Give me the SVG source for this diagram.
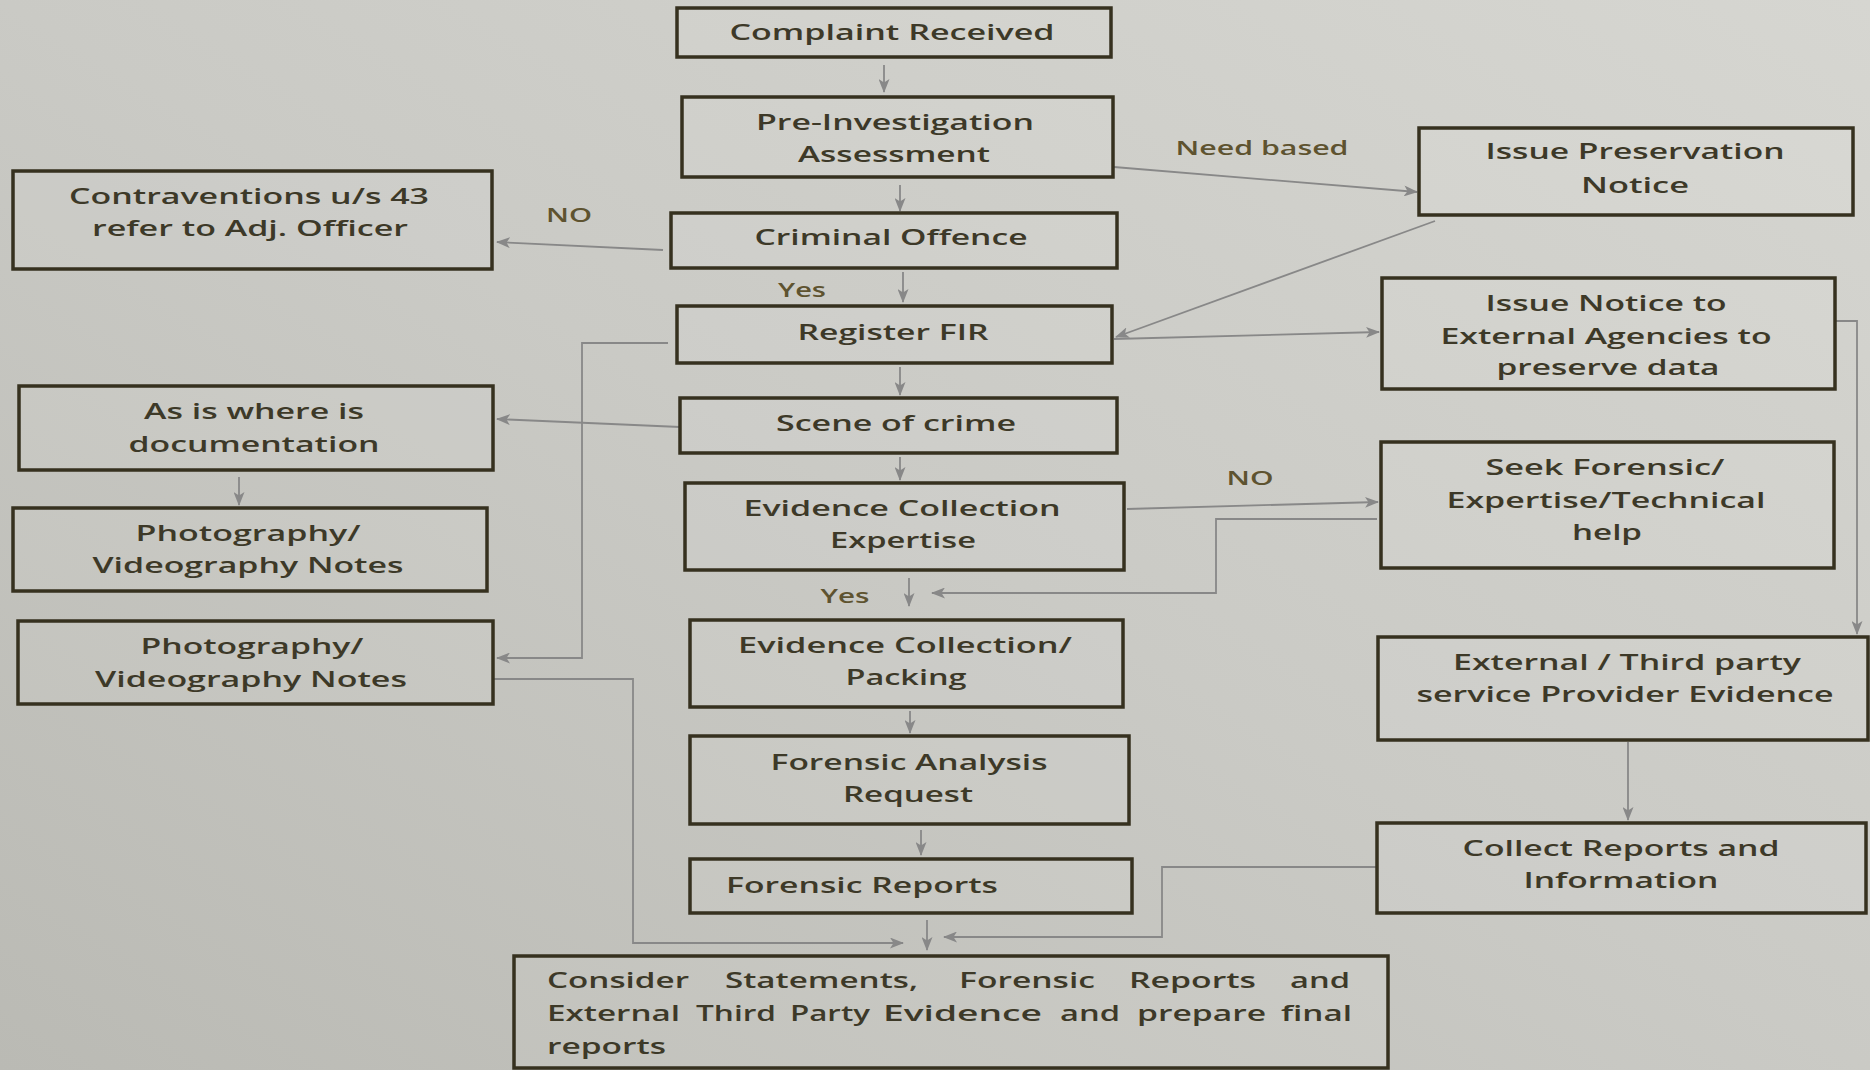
<svg xmlns="http://www.w3.org/2000/svg" width="1870" height="1070" viewBox="0 0 1870 1070">
<defs>
<linearGradient id="bg" x1="1" y1="0" x2="0" y2="1">
<stop offset="0" stop-color="#d6d6d1"/>
<stop offset="0.5" stop-color="#cacac5"/>
<stop offset="1" stop-color="#babab4"/>
</linearGradient>
<marker id="ah" markerWidth="14" markerHeight="11" refX="13" refY="5.5" orient="auto" markerUnits="userSpaceOnUse">
<path d="M0,0 L14,5.5 L0,11 L3.5,5.5 Z" fill="#888888"/>
</marker>
<style>
.box{fill:#ffffff;fill-opacity:0.07;stroke:#36311f;stroke-width:3.5}
.t{font-family:"Open Sans","Liberation Sans",sans-serif;font-size:22px;font-weight:600;fill:#3d3928;text-anchor:middle}
.tl{font-family:"Open Sans","Liberation Sans",sans-serif;font-size:22px;font-weight:600;fill:#3d3928;text-anchor:start}
.lbl{font-family:"Open Sans","Liberation Sans",sans-serif;font-size:19px;font-weight:600;fill:#5e5330;text-anchor:middle}
.c{fill:none;stroke:#888888;stroke-width:1.8;marker-end:url(#ah)}
</style>
</defs>
<rect x="0" y="0" width="1870" height="1070" fill="url(#bg)"/>

<g id="connectors">
<path class="c" d="M884,65 V92"/>
<path class="c" d="M900,185 V211"/>
<path class="c" d="M903,272 V302"/>
<path class="c" d="M900,367 V395"/>
<path class="c" d="M900,457 V480"/>
<path class="c" d="M909,578 V606"/>
<path class="c" d="M910,711 V733"/>
<path class="c" d="M921,830 V855"/>
<path class="c" d="M927,920 V950"/>
<path class="c" d="M1114,167 L1417,192"/>
<path class="c" d="M1435,221 L1116,337"/>
<path class="c" d="M1114,339 L1379,332"/>
<path class="c" d="M1836,321 H1857 V634"/>
<path class="c" d="M1628,742 V820"/>
<path class="c" d="M663,250 L497,242"/>
<path class="c" d="M668,343 H582 V658 H497"/>
<path class="c" d="M680,427 L497,419"/>
<path class="c" d="M239,477 V505"/>
<path class="c" d="M1127,509 L1378,502"/>
<path class="c" d="M1377,519 H1216 V593 H932"/>
<path class="c" d="M494,679 H633 V943 H903"/>
<path class="c" d="M1376,867 H1162 V937 H944"/>
<text class="lbl" x="1262" y="155" textLength="173" lengthAdjust="spacingAndGlyphs">Need based</text>
<text class="lbl" x="569" y="222" textLength="46" lengthAdjust="spacingAndGlyphs">NO</text>
<text class="lbl" x="802" y="297" textLength="48" lengthAdjust="spacingAndGlyphs">Yes</text>
<text class="lbl" x="1250" y="485" textLength="47" lengthAdjust="spacingAndGlyphs">NO</text>
<text class="lbl" x="845" y="603" textLength="49" lengthAdjust="spacingAndGlyphs">Yes</text>
</g>

<g id="complaint">
<rect class="box" x="677" y="8" width="434" height="49"/>
<text class="t" x="892" y="40" textLength="325" lengthAdjust="spacingAndGlyphs">Complaint Received</text>
</g>
<g id="preinv">
<rect class="box" x="682" y="97" width="431" height="80"/>
<text class="t" x="895" y="130" textLength="278" lengthAdjust="spacingAndGlyphs">Pre-Investigation</text>
<text class="t" x="894" y="162" textLength="192" lengthAdjust="spacingAndGlyphs">Assessment</text>
</g>
<g id="criminal">
<rect class="box" x="671" y="213" width="446" height="55"/>
<text class="t" x="891" y="245" textLength="273" lengthAdjust="spacingAndGlyphs">Criminal Offence</text>
</g>
<g id="fir">
<rect class="box" x="677" y="306" width="435" height="57"/>
<text class="t" x="893" y="340" textLength="191" lengthAdjust="spacingAndGlyphs">Register FIR</text>
</g>
<g id="scene">
<rect class="box" x="680" y="398" width="437" height="55"/>
<text class="t" x="896" y="431" textLength="240" lengthAdjust="spacingAndGlyphs">Scene of crime</text>
</g>
<g id="evexp">
<rect class="box" x="685" y="483" width="439" height="87"/>
<text class="t" x="902" y="516" textLength="317" lengthAdjust="spacingAndGlyphs">Evidence Collection</text>
<text class="t" x="903" y="548" textLength="146" lengthAdjust="spacingAndGlyphs">Expertise</text>
</g>
<g id="evpack">
<rect class="box" x="690" y="620" width="433" height="87"/>
<text class="t" x="905" y="653" textLength="334" lengthAdjust="spacingAndGlyphs">Evidence Collection/</text>
<text class="t" x="906" y="685" textLength="121" lengthAdjust="spacingAndGlyphs">Packing</text>
</g>
<g id="fareq">
<rect class="box" x="690" y="736" width="439" height="88"/>
<text class="t" x="909" y="770" textLength="277" lengthAdjust="spacingAndGlyphs">Forensic Analysis</text>
<text class="t" x="908" y="802" textLength="130" lengthAdjust="spacingAndGlyphs">Request</text>
</g>
<g id="farep">
<rect class="box" x="690" y="859" width="442" height="54"/>
<text class="t" x="862" y="893" textLength="272" lengthAdjust="spacingAndGlyphs">Forensic Reports</text>
</g>
<g id="consider">
<rect class="box" x="514" y="956" width="874" height="112"/>
<text class="tl" x="547" y="988" textLength="142" lengthAdjust="spacingAndGlyphs">Consider</text>
<text class="tl" x="725" y="988" textLength="193" lengthAdjust="spacingAndGlyphs">Statements,</text>
<text class="tl" x="959" y="988" textLength="136" lengthAdjust="spacingAndGlyphs">Forensic</text>
<text class="tl" x="1129" y="988" textLength="127" lengthAdjust="spacingAndGlyphs">Reports</text>
<text class="tl" x="1290" y="988" textLength="60" lengthAdjust="spacingAndGlyphs">and</text>
<text class="tl" x="547" y="1021" textLength="133" lengthAdjust="spacingAndGlyphs">External</text>
<text class="tl" x="696" y="1021" textLength="80" lengthAdjust="spacingAndGlyphs">Third</text>
<text class="tl" x="790" y="1021" textLength="80" lengthAdjust="spacingAndGlyphs">Party</text>
<text class="tl" x="883" y="1021" textLength="159" lengthAdjust="spacingAndGlyphs">Evidence</text>
<text class="tl" x="1060" y="1021" textLength="60" lengthAdjust="spacingAndGlyphs">and</text>
<text class="tl" x="1137" y="1021" textLength="129" lengthAdjust="spacingAndGlyphs">prepare</text>
<text class="tl" x="1281" y="1021" textLength="71" lengthAdjust="spacingAndGlyphs">final</text>
<text class="tl" x="547" y="1054" textLength="119" lengthAdjust="spacingAndGlyphs">reports</text>
</g>
<g id="contra">
<rect class="box" x="13" y="171" width="479" height="98"/>
<text class="t" x="249" y="204" textLength="360" lengthAdjust="spacingAndGlyphs">Contraventions u/s 43</text>
<text class="t" x="250" y="236" textLength="316" lengthAdjust="spacingAndGlyphs">refer to Adj. Officer</text>
</g>
<g id="asis">
<rect class="box" x="19" y="386" width="474" height="84"/>
<text class="t" x="254" y="419" textLength="220" lengthAdjust="spacingAndGlyphs">As is where is</text>
<text class="t" x="254" y="452" textLength="251" lengthAdjust="spacingAndGlyphs">documentation</text>
</g>
<g id="photo1">
<rect class="box" x="13" y="508" width="474" height="83"/>
<text class="t" x="248" y="541" textLength="225" lengthAdjust="spacingAndGlyphs">Photography/</text>
<text class="t" x="248" y="573" textLength="311" lengthAdjust="spacingAndGlyphs">Videography Notes</text>
</g>
<g id="photo2">
<rect class="box" x="18" y="621" width="475" height="83"/>
<text class="t" x="252" y="654" textLength="223" lengthAdjust="spacingAndGlyphs">Photography/</text>
<text class="t" x="251" y="687" textLength="312" lengthAdjust="spacingAndGlyphs">Videography Notes</text>
</g>
<g id="pres">
<rect class="box" x="1419" y="128" width="434" height="87"/>
<text class="t" x="1635" y="159" textLength="299" lengthAdjust="spacingAndGlyphs">Issue Preservation</text>
<text class="t" x="1635" y="193" textLength="108" lengthAdjust="spacingAndGlyphs">Notice</text>
</g>
<g id="notice">
<rect class="box" x="1382" y="278" width="453" height="111"/>
<text class="t" x="1606" y="311" textLength="241" lengthAdjust="spacingAndGlyphs">Issue Notice to</text>
<text class="t" x="1606" y="344" textLength="331" lengthAdjust="spacingAndGlyphs">External Agencies to</text>
<text class="t" x="1608" y="375" textLength="223" lengthAdjust="spacingAndGlyphs">preserve data</text>
</g>
<g id="seek">
<rect class="box" x="1381" y="442" width="453" height="126"/>
<text class="t" x="1605" y="475" textLength="239" lengthAdjust="spacingAndGlyphs">Seek Forensic/</text>
<text class="t" x="1606" y="508" textLength="319" lengthAdjust="spacingAndGlyphs">Expertise/Technical</text>
<text class="t" x="1607" y="540" textLength="70" lengthAdjust="spacingAndGlyphs">help</text>
</g>
<g id="ext">
<rect class="box" x="1378" y="637" width="490" height="103"/>
<text class="t" x="1627" y="670" textLength="348" lengthAdjust="spacingAndGlyphs">External / Third party</text>
<text class="t" x="1625" y="702" textLength="417" lengthAdjust="spacingAndGlyphs">service Provider Evidence</text>
</g>
<g id="collect">
<rect class="box" x="1377" y="823" width="489" height="90"/>
<text class="t" x="1621" y="856" textLength="317" lengthAdjust="spacingAndGlyphs">Collect Reports and</text>
<text class="t" x="1621" y="888" textLength="195" lengthAdjust="spacingAndGlyphs">Information</text>
</g>
</svg>
